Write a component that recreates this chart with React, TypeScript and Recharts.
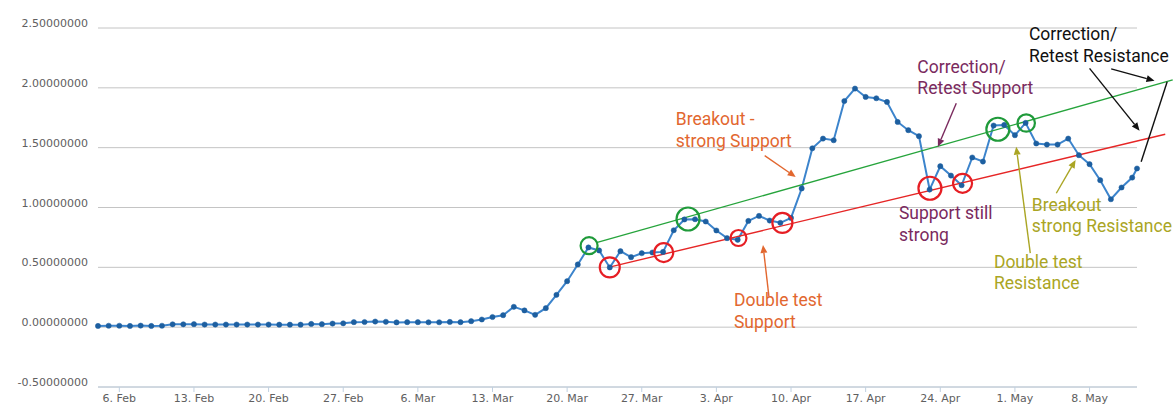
import { LineChart, Line, XAxis, YAxis, CartesianGrid, ReferenceLine, ReferenceDot } from "recharts";

// daily close, 4 Feb .. 12 May, last value is the partial day
const prices = [
  0.010, 0.012, 0.012, 0.010, 0.013, 0.010, 0.012, 0.024, 0.024, 0.025,
  0.022, 0.022, 0.022, 0.022, 0.022, 0.022, 0.022, 0.021, 0.021, 0.021,
  0.027, 0.025, 0.030, 0.032, 0.042, 0.043, 0.047, 0.045, 0.040, 0.042,
  0.042, 0.041, 0.041, 0.044, 0.042, 0.050, 0.064, 0.085, 0.100, 0.170,
  0.140, 0.103, 0.159, 0.270, 0.384, 0.524, 0.666, 0.641, 0.499, 0.635,
  0.585, 0.618, 0.624, 0.629, 0.810, 0.900, 0.902, 0.883, 0.808, 0.744,
  0.730, 0.888, 0.930, 0.891, 0.872, 0.913, 1.159, 1.495, 1.576, 1.562,
  1.890, 1.994, 1.924, 1.913, 1.882, 1.715, 1.646, 1.596, 1.150, 1.345,
  1.267, 1.186, 1.418, 1.384, 1.685, 1.690, 1.604, 1.707, 1.535, 1.526,
  1.526, 1.576, 1.437, 1.362, 1.228, 1.069, 1.167, 1.250, 1.326,
];
const lastPartialDay = 97.45;

const tickDays = [2, 9, 16, 23, 30, 37, 44, 51, 58, 65, 72, 79, 86, 93];
const tickLabels = [
  "6. Feb", "13. Feb", "20. Feb", "27. Feb", "6. Mar", "13. Mar", "20. Mar",
  "27. Mar", "3. Apr", "10. Apr", "17. Apr", "24. Apr", "1. May", "8. May",
];
const yTicks = [-0.5, 0, 0.5, 1, 1.5, 2, 2.5];

// drawn-on annotations, in (day, price) units
const greenTrend = [{ x: 46.75, y: 0.706 }, { x: 100.8, y: 2.066 }];
const redTrend = [{ x: 48.16, y: 0.506 }, { x: 100.1, y: 1.612 }];

const greenCircles = [
  { day: 46.06, value: 0.681, r: 8.5 },
  { day: 55.34, value: 0.904, r: 11.5 },
  { day: 84.4, value: 1.654, r: 11.5 },
  { day: 87.06, value: 1.706, r: 8.7 },
];
const redCircles = [
  { day: 48.0, value: 0.5, r: 10 },
  { day: 53.06, value: 0.623, r: 9.5 },
  { day: 60.07, value: 0.745, r: 8 },
  { day: 64.19, value: 0.871, r: 10 },
  { day: 78.03, value: 1.161, r: 11.5 },
  { day: 81.09, value: 1.202, r: 9.5 },
];

const ORANGE = "#e2672f";
const PURPLE = "#7a2a5e";
const OLIVE = "#aaa524";
const BLACK = "#111111";

const notes = [
  { day: 54.19, value: 1.688, lines: ["Breakout -", "strong Support"], color: ORANGE },
  { day: 59.65, value: 0.177, lines: ["Double test", "Support"], color: ORANGE },
  { day: 76.85, value: 2.127, lines: ["Correction/", "Retest Support"], color: PURPLE },
  { day: 75.12, value: 0.904, lines: ["Support still", "strong"], color: PURPLE },
  { day: 87.31, value: 2.40, lines: ["Correction/", "Retest Resistance"], color: BLACK },
  { day: 87.59, value: 0.973, lines: ["Breakout", "strong Resistance"], color: OLIVE },
  { day: 84.03, value: 0.497, lines: ["Double test", "Resistance"], color: OLIVE },
];

const arrows = [
  { from: { x: 62.53, y: 1.433 }, to: { x: 65.44, y: 1.255 }, color: ORANGE, head: true },
  { from: { x: 62.93, y: 0.255 }, to: { x: 62.37, y: 0.687 }, color: ORANGE, head: true },
  { from: { x: 80.5, y: 1.871 }, to: { x: 78.78, y: 1.508 }, color: PURPLE, head: true },
  { from: { x: 87.44, y: 0.618 }, to: { x: 86.12, y: 1.508 }, color: OLIVE, head: true },
  { from: { x: 89.88, y: 1.119 }, to: { x: 91.69, y: 1.397 }, color: OLIVE, head: true },
  { from: { x: 95.03, y: 2.158 }, to: { x: 99.09, y: 2.06 }, color: BLACK, head: true },
  { from: { x: 93.0, y: 2.163 }, to: { x: 97.69, y: 1.642 }, color: BLACK, head: true },
  { from: { x: 100.28, y: 2.051 }, to: { x: 97.84, y: 1.383 }, color: BLACK, head: false },
];

const data = prices.map((price, i) => ({
  day: i === prices.length - 1 ? lastPartialDay : i,
  price,
}));

// eslint-disable-next-line @typescript-eslint/no-explicit-any
const ArrowShape = (color: string, head: boolean) => (p: any) => {
  const { x1, y1, x2, y2 } = p;
  const ang = Math.atan2(y2 - y1, x2 - x1);
  const len = 8, half = 3.5;
  const bx = x2 - len * Math.cos(ang), by = y2 - len * Math.sin(ang);
  const pts = [
    `${x2},${y2}`,
    `${bx + half * Math.sin(ang)},${by - half * Math.cos(ang)}`,
    `${bx - half * Math.sin(ang)},${by + half * Math.cos(ang)}`,
  ].join(" ");
  return (
    <g>
      <line x1={x1} y1={y1} x2={head ? bx : x2} y2={head ? by : y2} stroke={color} strokeWidth={1.4} />
      {head && <polygon points={pts} fill={color} />}
    </g>
  );
};

// eslint-disable-next-line @typescript-eslint/no-explicit-any
const NoteShape = (lines: string[], color: string) => (p: any) => (
  <text x={p.cx} y={p.cy} fill={color} fontSize={17.5} fontFamily="Roboto, sans-serif">
    {lines.map((l, i) => (
      <tspan key={i} x={p.cx} dy={i === 0 ? 0 : 21.7}>{l}</tspan>
    ))}
  </text>
);

// eslint-disable-next-line @typescript-eslint/no-explicit-any
const YTick = (p: any) => (
  <text x={p.x} y={p.y} dy={-1} textAnchor="end" fill="#606060" fontSize={11} fontFamily="DejaVu Sans, sans-serif">
    {Number(p.payload.value).toFixed(8)}
  </text>
);

// eslint-disable-next-line @typescript-eslint/no-explicit-any
const XTick = (p: any) => (
  <text x={p.x} y={p.y} dy={8} textAnchor="middle" fill="#606060" fontSize={11} fontFamily="DejaVu Sans, sans-serif">
    {tickLabels[tickDays.indexOf(p.payload.value)]}
  </text>
);

export default function App() {
  return (
    <div style={{ position: "absolute", left: 0, top: 0, width: 1175, height: 412, background: "#fff" }}>
      <LineChart width={1175} height={412} data={data} margin={{ top: 28, right: 38, bottom: 0, left: 0 }}>
        <CartesianGrid vertical={false} stroke="#c4c4c4" />
        <XAxis
          dataKey="day" type="number" domain={[0, lastPartialDay]} ticks={tickDays}
          height={25} tickSize={5} tickMargin={2}
          axisLine={{ stroke: "#c0d0e0" }} tickLine={{ stroke: "#c0d0e0" }}
          tick={<XTick />} interval={0}
        />
        <YAxis
          type="number" domain={[-0.5, 2.5]} ticks={yTicks} width={98}
          axisLine={false} tickLine={false} tickMargin={4} tick={<YTick />} interval={0}
        />
        <Line
          type="linear" dataKey="price" stroke="#3c84cc" strokeWidth={2}
          dot={{ r: 2.6, fill: "#1d5fa0", stroke: "#1d5fa0", strokeWidth: 0.5 }}
          activeDot={false} isAnimationActive={false}
        />
        <ReferenceLine segment={greenTrend} stroke="#26a43c" strokeWidth={1.4} ifOverflow="visible" />
        <ReferenceLine segment={redTrend} stroke="#e62626" strokeWidth={1.4} ifOverflow="visible" />
        {greenCircles.map((c, i) => (
          <ReferenceDot key={`g${i}`} x={c.day} y={c.value} r={c.r} fill="none" stroke="#1f9a3a" strokeWidth={2.2} ifOverflow="visible" />
        ))}
        {redCircles.map((c, i) => (
          <ReferenceDot key={`r${i}`} x={c.day} y={c.value} r={c.r} fill="none" stroke="#e61e24" strokeWidth={2.2} ifOverflow="visible" />
        ))}
        {arrows.map((a, i) => (
          <ReferenceLine key={`a${i}`} segment={[a.from, a.to]} ifOverflow="visible" shape={ArrowShape(a.color, a.head)} />
        ))}
        {notes.map((n, i) => (
          <ReferenceDot key={`n${i}`} x={n.day} y={n.value} r={0} ifOverflow="visible" shape={NoteShape(n.lines, n.color)} />
        ))}
      </LineChart>
    </div>
  );
}
